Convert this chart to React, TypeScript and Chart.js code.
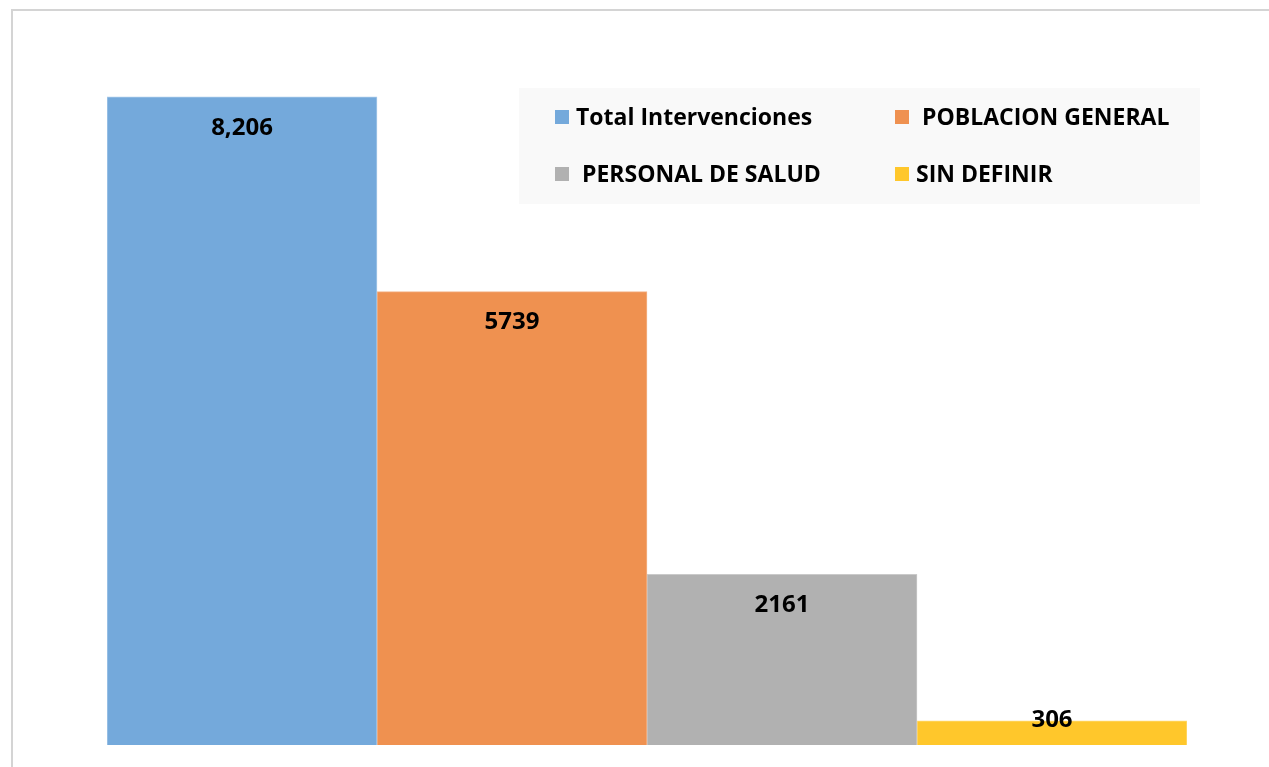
import React, { useEffect, useRef } from "react";
import { Chart, registerables } from "chart.js";

Chart.register(...registerables);

const categories = ["Intervenciones"];
const seriesNames = ["Total Intervenciones", " POBLACION GENERAL", " PERSONAL DE SALUD", "SIN DEFINIR"];
const seriesValues = [8206, 5739, 2161, 306];
const valueLabels = ["8,206", "5739", "2161", "306"];
const seriesColors = ["#74A9DB", "#EF9150", "#B1B1B1", "#FFC72B"];
const seriesBorders = ["#A9C9E9", "#F4B58A", "#CACACA", "#FFDA75"];

const FONT = "'Open Sans', sans-serif";

const labelPlugin = {
  id: "valueLabels",
  afterDatasetsDraw(chart: any) {
    const ctx = chart.ctx;
    ctx.save();
    ctx.font = `bold 24px ${FONT}`;
    ctx.fillStyle = "#000";
    ctx.textAlign = "center";
    ctx.textBaseline = "middle";
    chart.data.datasets.forEach((ds: any, i: number) => {
      const meta = chart.getDatasetMeta(i);
      meta.data.forEach((bar: any) => {
        const y = Math.min(bar.y + 31, bar.base - 25);
        ctx.fillText(valueLabels[i], bar.x, y);
      });
    });
    ctx.restore();
  },
};

const legendPlugin = {
  id: "boxLegend",
  afterDraw(chart: any) {
    const ctx = chart.ctx;
    ctx.save();
    ctx.fillStyle = "#F9F9F9";
    ctx.fillRect(519, 88, 681, 116);
    const pos = [
      [555, 117],
      [895, 117],
      [555, 174],
      [895, 174],
    ];
    ctx.font = `bold 23px ${FONT}`;
    ctx.textBaseline = "middle";
    ctx.textAlign = "left";
    seriesNames.forEach((name, i) => {
      const [x, y] = pos[i];
      ctx.fillStyle = seriesColors[i];
      ctx.fillRect(x, y - 7, 14, 14);
      ctx.fillStyle = "#000";
      ctx.fillText(name, x + 21, y + 1);
    });
    ctx.restore();
  },
};

export default function App() {
  const ref = useRef<HTMLCanvasElement>(null);
  useEffect(() => {
    if (!ref.current) return;
    const chart = new Chart(ref.current, {
      type: "bar",
      data: {
        labels: categories,
        datasets: seriesNames.map((n, i) => ({
          label: n,
          data: [seriesValues[i]],
          backgroundColor: seriesColors[i],
          borderColor: seriesBorders[i],
          borderWidth: 1,
          categoryPercentage: 1,
          barPercentage: 1,
        })),
      },
      options: {
        animation: false,
        responsive: false,
        maintainAspectRatio: false,
        layout: { padding: { left: 107, right: 82, top: 34, bottom: 22 } },
        plugins: { legend: { display: false }, tooltip: { enabled: false } },
        scales: {
          x: { display: false },
          y: { display: false, min: 0, max: 9000 },
        },
      },
      plugins: [labelPlugin, legendPlugin],
    });
    return () => chart.destroy();
  }, []);
  return (
    <div style={{ position: "fixed", left: 0, top: 0, width: 1269, height: 767, overflow: "hidden", background: "#fff" }}>
      <div style={{ position: "absolute", left: 11, top: 9, width: 1300, height: 800, border: "2px solid #D4D4D4", boxSizing: "border-box" }} />
      <canvas ref={ref} width={1269} height={767} style={{ position: "absolute", left: 0, top: 0 }} />
    </div>
  );
}
